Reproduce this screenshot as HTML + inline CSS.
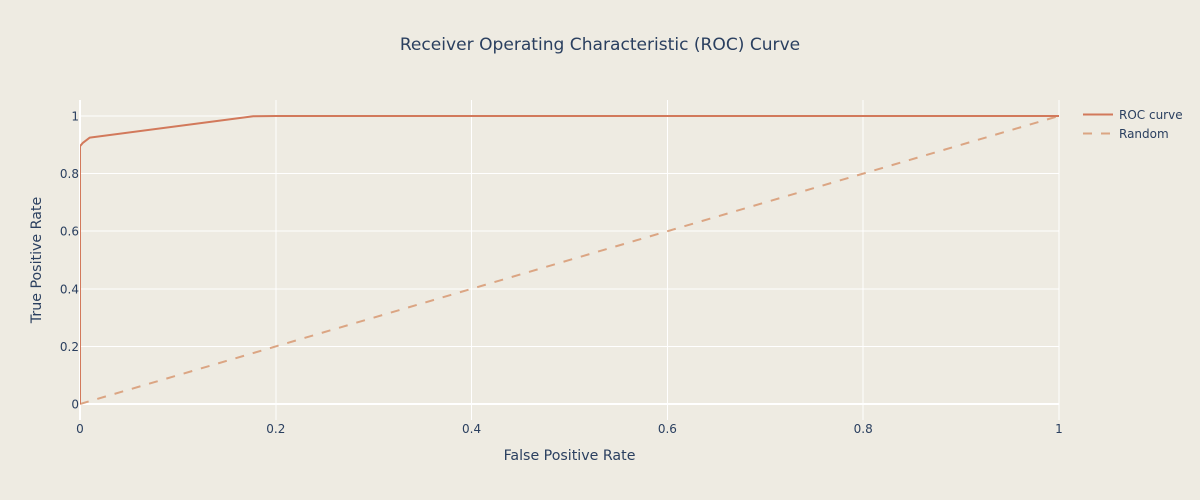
<!DOCTYPE html>
<html>
<head>
<meta charset="utf-8">
<title>ROC Curve</title>
<style>
html,body{margin:0;padding:0;background:#eeebe2;}
svg{display:block;font-family:"DejaVu Sans","Liberation Sans",sans-serif;}
</style>
</head>
<body>
<svg id="chart" width="1200" height="500" viewBox="0 0 1200 500" xmlns="http://www.w3.org/2000/svg">
  <defs>
    <clipPath id="plot-clip"><rect x="80" y="100" width="979" height="320"/></clipPath>
  </defs>
  <rect x="0" y="0" width="1200" height="500" fill="#eeebe2"/>
  <g id="grid" shape-rendering="crispEdges"></g>
  <g id="ticks" font-size="12" fill="#2a3f5f"></g>
  <g id="series" clip-path="url(#plot-clip)"></g>
  <text x="600" y="50" text-anchor="middle" font-size="17.07" fill="#2a3f5f">Receiver Operating Characteristic (ROC) Curve</text>
  <text x="569.5" y="460" text-anchor="middle" font-size="14.2" fill="#2a3f5f">False Positive Rate</text>
  <text transform="translate(41,260) rotate(-90)" text-anchor="middle" font-size="14.2" fill="#2a3f5f">True Positive Rate</text>
  <g>
    <g>
      <line x1="1083" y1="114.5" x2="1113" y2="114.5" stroke="#d2795b" stroke-width="2"/>
      <text x="1119" y="119" font-size="12" fill="#2a3f5f">ROC curve</text>
    </g>
    <g>
      <line x1="1083" y1="133.5" x2="1113" y2="133.5" stroke="#dba583" stroke-width="2" stroke-dasharray="9,9"/>
      <text x="1119" y="138" font-size="12" fill="#2a3f5f">Random</text>
    </g>
  </g>
</svg>
<script>
const xTicks = [0, 0.2, 0.4, 0.6, 0.8, 1];
const yTicks = [0, 0.2, 0.4, 0.6, 0.8, 1];
const rocFpr = [0, 0, 0.003, 0.01, 0.177, 0.2, 1];
const rocTpr = [0, 0.895, 0.907, 0.925, 0.999, 1, 1];
const randomFpr = [0, 1];
const randomTpr = [0, 1];

const NS = 'http://www.w3.org/2000/svg';
const plotLeft = 80, plotRight = 1059, plotTop = 100, plotBottom = 420;
const yMin = -0.0555, yMax = 1.0555;
function xScale(v) { return plotLeft + v * (plotRight - plotLeft); }
function yScale(v) { return plotBottom - (v - yMin) / (yMax - yMin) * (plotBottom - plotTop); }

const grid = document.getElementById('grid');
const ticks = document.getElementById('ticks');
const series = document.getElementById('series');

xTicks.forEach(function (t) {
  const l = document.createElementNS(NS, 'line');
  
  
  l.setAttribute('x1', xScale(t));
  l.setAttribute('x2', xScale(t));
  l.setAttribute('y1', plotTop);
  l.setAttribute('y2', plotBottom);
  l.setAttribute('stroke', '#ffffff');
  l.setAttribute('stroke-width', t === 0 ? 2 : 1);
  grid.appendChild(l);
  const s = document.createElementNS(NS, 'text');
  
  
  s.setAttribute('x', xScale(t));
  s.setAttribute('y', 433);
  s.setAttribute('text-anchor', 'middle');
  s.textContent = String(t);
  ticks.appendChild(s);
});

yTicks.forEach(function (t) {
  const l = document.createElementNS(NS, 'line');
  
  
  l.setAttribute('x1', plotLeft);
  l.setAttribute('x2', plotRight);
  l.setAttribute('y1', yScale(t));
  l.setAttribute('y2', yScale(t));
  l.setAttribute('stroke', '#ffffff');
  l.setAttribute('stroke-width', t === 0 ? 2 : 1);
  grid.appendChild(l);
  const s = document.createElementNS(NS, 'text');
  
  
  s.setAttribute('x', 79);
  s.setAttribute('y', yScale(t) + 4.5);
  s.setAttribute('text-anchor', 'end');
  s.textContent = String(t);
  ticks.appendChild(s);
});

function toPoints(xs, ys) {
  return xs.map(function (x, i) { return xScale(x) + ',' + yScale(ys[i]); }).join(' ');
}

const randomLine = document.createElementNS(NS, 'polyline');


randomLine.setAttribute('points', toPoints(randomFpr, randomTpr));
randomLine.setAttribute('fill', 'none');
randomLine.setAttribute('stroke', '#dba583');
randomLine.setAttribute('stroke-width', '2');
randomLine.setAttribute('stroke-dasharray', '9,9');
series.appendChild(randomLine);

const rocLine = document.createElementNS(NS, 'polyline');


rocLine.setAttribute('points', toPoints(rocFpr, rocTpr));
rocLine.setAttribute('fill', 'none');
rocLine.setAttribute('stroke', '#d2795b');
rocLine.setAttribute('stroke-width', '2');
rocLine.setAttribute('stroke-linejoin', 'round');
series.appendChild(rocLine);
</script>
</body>
</html>
